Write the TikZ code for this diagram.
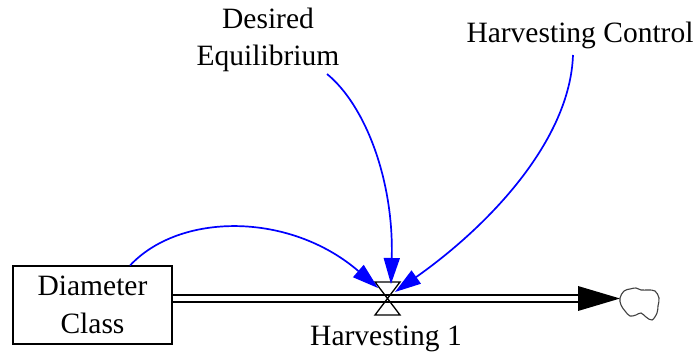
\documentclass[tikz,border=0pt]{standalone}
\usepackage{fontspec}
\setmainfont{LiberationSerif}[Extension=.ttf, UprightFont=*-Regular, BoldFont=*-Bold]
\usetikzlibrary{arrows.meta}
\tikzset{
  lbl/.style={inner sep=0pt, align=center, font=\fontsize{29.5pt}{37pt}\selectfont},
  stockbox/.style={draw, line width=1.3pt, minimum width=159pt, minimum height=78pt, inner sep=0pt, align=center, font=\fontsize{29.5pt}{38pt}\selectfont},
  pipe/.style={line width=1.8pt, double=white, double distance=5pt},
  link/.style={draw=blue, line width=1.7pt, -{Triangle[length=26pt,width=16pt]}},
  valveline/.style={line width=1.3pt},
}
\begin{document}
\begin{tikzpicture}[x=1pt,y=-1pt]
\useasboundingbox (0,0) rectangle (699,355);
% stock
\node[stockbox] (stock) at (92.5,305) {Diameter\\Class};
% coordinates
\coordinate (valve) at (387.5,298.5);
\coordinate (pipeL) at (172.5,298.5);
\coordinate (pipeR) at (578,298.5);
\coordinate (arrtip) at (620,298.5);
% pipe
\draw[pipe] (pipeL) -- (pipeR);
\fill (578,286) -- (arrtip) -- (578,311) -- cycle;
% valve
\draw[valveline] (375,282) -- (400,282) -- (valve) -- cycle;
\draw[valveline] (375,315) -- (400,315) -- (valve) -- cycle;
% cloud
\draw[line width=1.1pt, draw=black!75] plot[smooth cycle, tension=0.6] coordinates {
 (620,298) (624,291) (630,289) (636,288) (641,290) (648,290) (655,291) (659,298)
 (658,306) (657,313) (652,320) (646,317) (641,313) (636,315) (630,316) (625,311) (621,305)};
\node[inner sep=0pt] (cloud) at (640,303) {};
% labels
\node[lbl, anchor=base] (flowlbl) at (386,345) {Harvesting 1};
\node[lbl] (deq) at (268,39.5) {Desired\\Equilibrium};
\node[lbl, anchor=base] (hc) at (580,43) {Harvesting Control};
% link endpoints
\coordinate (s1) at (130,265.5);
\coordinate (t1) at (378,288);
\coordinate (s2) at (327,74);
\coordinate (t2) at (391,284);
\coordinate (s3) at (573,55);
\coordinate (t3) at (395,292);
% links
\draw[link] (s1) .. controls (180,212) and (290,212) .. (t1);
\draw[link] (s2) .. controls (365,105) and (394,180) .. (t2);
\draw[link] (s3) .. controls (570,140) and (490,225) .. (t3);
\end{tikzpicture}
\end{document}
